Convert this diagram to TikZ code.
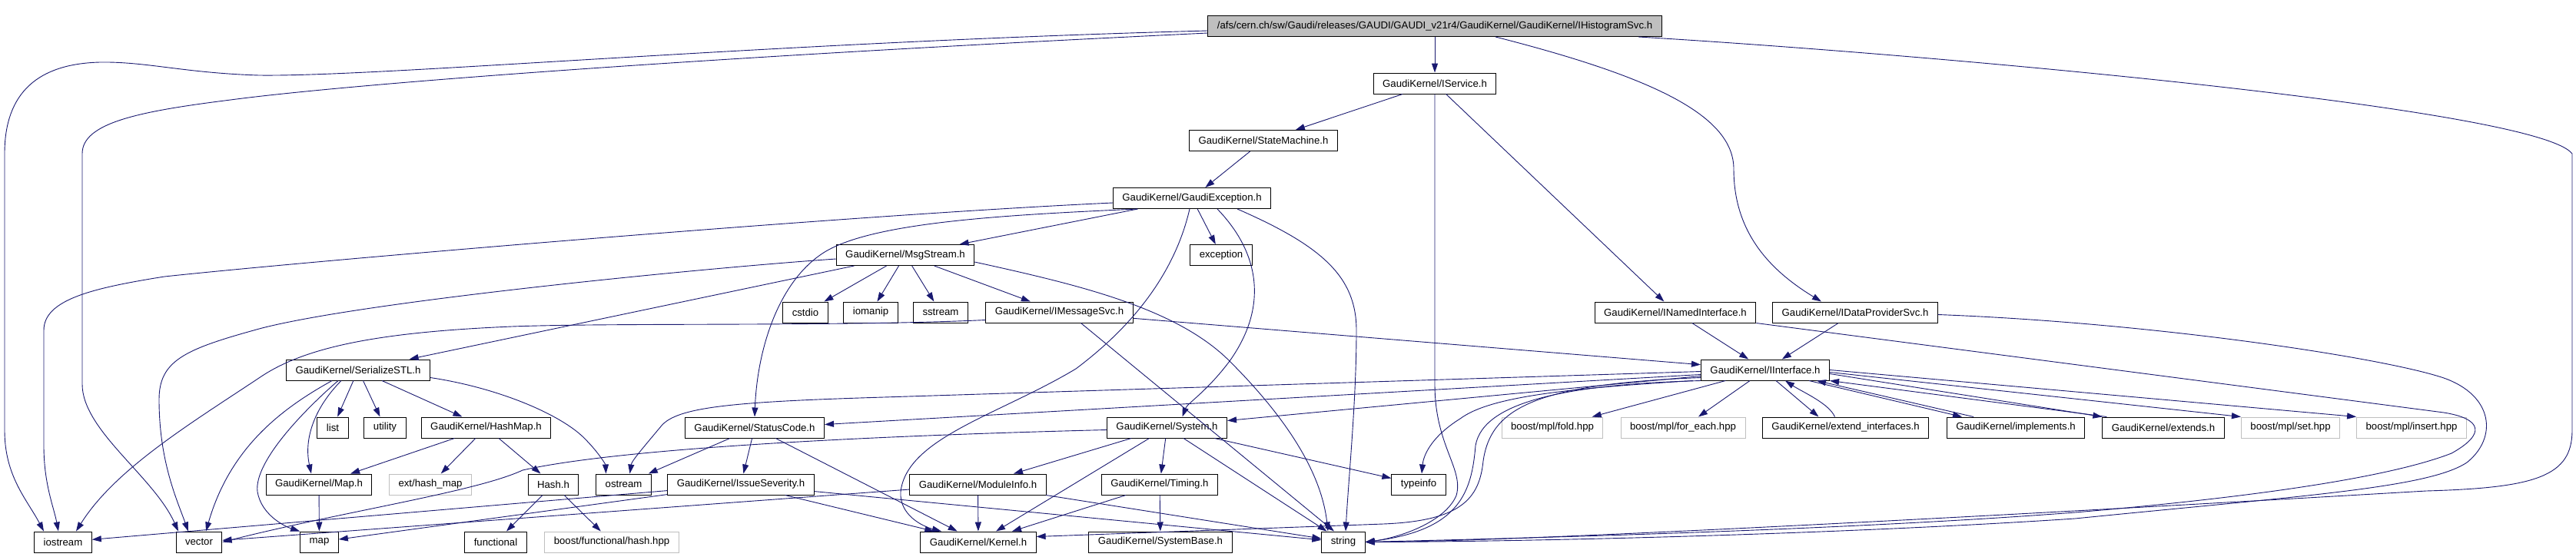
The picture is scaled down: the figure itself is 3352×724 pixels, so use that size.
\documentclass[tikz,border=0pt]{standalone}
\usepackage{fontspec}
\setmainfont{Liberation Sans}
\usetikzlibrary{arrows.meta}
\definecolor{inclblue}{HTML}{191970}
\definecolor{missgray}{HTML}{BFBFBF}

\begin{document}
\begin{tikzpicture}[x=1pt,y=-1pt,
    hfile/.style={rectangle,draw,line width=1pt,minimum height=27pt,inner xsep=12pt,inner ysep=0pt,font=\fontsize{13.2}{15}\selectfont},
    sysfile/.style={hfile,draw=missgray},
    rootfile/.style={hfile,fill=missgray},
    incl/.style={draw=inclblue,line width=0.9pt,-{Triangle[length=12pt,width=8pt]}}]
  \useasboundingbox (0,0) rectangle (3352,724);

  % rows of the include graph
  \node[rootfile] (root) at (1867,34) {/afs/cern.ch/sw/Gaudi/releases/GAUDI/GAUDI\_v21r4/GaudiKernel/GaudiKernel/IHistogramSvc.h};
  \node[hfile] (IService) at (1867,108.5) {GaudiKernel/IService.h};
  \node[hfile] (StateMachine) at (1644,183) {GaudiKernel/StateMachine.h};
  \node[hfile] (GaudiException) at (1551,258) {GaudiKernel/GaudiException.h};
  \node[hfile] (MsgStream) at (1178,332) {GaudiKernel/MsgStream.h};
  \node[hfile] (exception) at (1589,332) {exception};
  \node[hfile] (cstdio) at (1048,406.5) {cstdio};
  \node[hfile] (iomanip) at (1133,406.5) {iomanip};
  \node[hfile] (sstream) at (1224,406.5) {sstream};
  \node[hfile] (IMessageSvc) at (1378.5,406.5) {GaudiKernel/IMessageSvc.h};
  \node[hfile] (INamedInterface) at (2180,406.5) {GaudiKernel/INamedInterface.h};
  \node[hfile] (IDataProviderSvc) at (2414,406.5) {GaudiKernel/IDataProviderSvc.h};
  \node[hfile] (SerializeSTL) at (466,481.5) {GaudiKernel/SerializeSTL.h};
  \node[hfile] (IInterface) at (2297,481.5) {GaudiKernel/IInterface.h};
  \node[hfile] (list) at (433,556.5) {list};
  \node[hfile] (utility) at (501,556.5) {utility};
  \node[hfile] (HashMap) at (632.5,556.5) {GaudiKernel/HashMap.h};
  \node[hfile] (StatusCode) at (982,556.5) {GaudiKernel/StatusCode.h};
  \node[hfile] (System) at (1518.5,556.5) {GaudiKernel/System.h};
  \node[sysfile] (mplfold) at (2020,556.5) {boost/mpl/fold.hpp};
  \node[sysfile] (mplforeach) at (2190,556.5) {boost/mpl/for\_each.hpp};
  \node[hfile] (extendif) at (2401.5,556.5) {GaudiKernel/extend\_interfaces.h};
  \node[hfile] (implements) at (2623,556.5) {GaudiKernel/implements.h};
  \node[hfile] (extends) at (2815,556.5) {GaudiKernel/extends.h};
  \node[sysfile] (mplset) at (2980.5,556.5) {boost/mpl/set.hpp};
  \node[sysfile] (mplinsert) at (3138,556.5) {boost/mpl/insert.hpp};
  \node[hfile] (Map) at (415,630.5) {GaudiKernel/Map.h};
  \node[sysfile] (hashmapx) at (560,630.5) {ext/hash\_map};
  \node[hfile] (Hash) at (720,630.5) {Hash.h};
  \node[hfile] (ostream) at (811.5,630.5) {ostream};
  \node[hfile] (IssueSeverity) at (964,630.5) {GaudiKernel/IssueSeverity.h};
  \node[hfile] (ModuleInfo) at (1272.5,630.5) {GaudiKernel/ModuleInfo.h};
  \node[hfile] (Timing) at (1509,630.5) {GaudiKernel/Timing.h};
  \node[hfile] (typeinfo) at (1846,630.5) {typeinfo};
  \node[hfile] (iostream) at (82,705.5) {iostream};
  \node[hfile] (vector) at (259,705.5) {vector};
  \node[hfile] (stdmap) at (415.5,705.5) {map};
  \node[hfile] (functional) at (645,705.5) {functional};
  \node[sysfile] (hashhpp) at (796,705.5) {boost/functional/hash.hpp};
  \node[hfile] (Kernel) at (1273,705.5) {GaudiKernel/Kernel.h};
  \node[hfile] (SystemBase) at (1510,705.5) {GaudiKernel/SystemBase.h};
  \node[hfile] (stdstring) at (1748,705.5) {string};

  % IHistogramSvc.h
  \draw[incl] (root) -- (IService);
  \draw[incl] ([yshift=-6pt]root.west) .. controls (1000,55) and (500,100) .. (337,98) .. controls (240,95) and (190,80) .. (130,81) .. controls (50,83) and (6,120) .. (6,200) -- (6,560) .. controls (6,620) and (35,650) .. ([xshift=-25pt]iostream.north);
  \draw[incl] ([yshift=-9pt]root.west) .. controls (900,75) and (450,110) .. (300,130) .. controls (180,145) and (107,160) .. (107,200) -- (107,500) .. controls (107,560) and (200,620) .. ([xshift=-27pt]vector.north);
  \draw[incl] ([xshift=79pt]root.south) .. controls (2150,100) and (2256,150) .. (2256,220) .. controls (2256,300) and (2300,350) .. ([xshift=-44pt]IDataProviderSvc.north);
  \draw[incl] ([xshift=265pt]root.south) .. controls (2500,70) and (3300,140) .. (3347,200) -- (3347,560) .. controls (3347,620) and (3300,635) .. (3157,639) .. controls (2800,660) and (2000,705) .. (stdstring.east);

  % IService.h, StateMachine.h
  \draw[incl] (IService) -- (StateMachine);
  \draw[incl] (IService) -- (INamedInterface);
  \draw[incl] (IService) -- (1867,500) .. controls (1867,580) and (1905,610) .. (1895,645) .. controls (1880,680) and (1820,700) .. (stdstring.east);
  \draw[incl] (StateMachine) -- (GaudiException);

  % GaudiException.h
  \draw[incl] (GaudiException) -- (MsgStream);
  \draw[incl] (GaudiException) -- (exception);
  \draw[incl] ([yshift=-6pt]GaudiException.west) .. controls (1100,280) and (400,340) .. (214,360) .. controls (120,375) and (57,390) .. (57,430) -- (57,580) .. controls (57,630) and (70,660) .. ([xshift=-6pt]iostream.north);
  \draw[incl] ([xshift=-71pt]GaudiException.south) .. controls (1300,280) and (1130,290) .. (1070,330) .. controls (1010,370) and (985,460) .. (StatusCode.north);
  \draw[incl] ([xshift=-3pt]GaudiException.south) .. controls (1530,350) and (1480,420) .. (1400,480) .. controls (1300,540) and (1180,570) .. (1172,640) .. controls (1170,670) and (1200,685) .. ([xshift=-48pt]Kernel.north);
  \draw[incl] ([xshift=33pt]GaudiException.south) .. controls (1640,330) and (1650,400) .. (1600,470) .. controls (1570,510) and (1545,525) .. ([xshift=20pt]System.north);
  \draw[incl] ([xshift=59pt]GaudiException.south) .. controls (1720,320) and (1765,360) .. (1765,430) .. controls (1765,520) and (1755,620) .. ([xshift=3pt]stdstring.north);

  % MsgStream.h, IMessageSvc.h
  \draw[incl] (MsgStream) -- (cstdio);
  \draw[incl] (MsgStream) -- (iomanip);
  \draw[incl] (MsgStream) -- (sstream);
  \draw[incl] (MsgStream) -- (IMessageSvc);
  \draw[incl] (MsgStream) -- (SerializeSTL);
  \draw[incl] ([yshift=-5pt]MsgStream.west) .. controls (900,350) and (450,395) .. (330,430) .. controls (240,455) and (207,470) .. (207,520) .. controls (207,600) and (230,650) .. ([xshift=-14pt]vector.north);
  \draw[incl] ([yshift=-9pt]MsgStream.east) .. controls (1400,370) and (1530,400) .. (1600,470) .. controls (1680,550) and (1720,620) .. ([xshift=-20pt]stdstring.north);
  \draw[incl] (IMessageSvc) -- (IInterface);
  \draw[incl] ([xshift=28pt]IMessageSvc.south) -- ([xshift=-12pt]stdstring.north);
  \draw[incl] ([yshift=-10pt]IMessageSvc.west) .. controls (1100,425) and (800,420) .. (666,425) .. controls (500,432) and (400,450) .. (340,490) .. controls (250,550) and (150,610) .. ([xshift=17pt]iostream.north);

  % INamedInterface.h, IDataProviderSvc.h
  \draw[incl] (INamedInterface) -- (IInterface);
  \draw[incl] (IDataProviderSvc) -- (IInterface);
  \draw[incl] (INamedInterface.south east) -- (3180,537) .. controls (3230,545) and (3235,565) .. (3190,590) .. controls (3100,625) and (2900,650) .. (2700,667) .. controls (2400,690) and (2000,700) .. (stdstring.east);
  \draw[incl] ([yshift=-3pt]IDataProviderSvc.east) .. controls (2800,420) and (3100,465) .. (3180,492) .. controls (3245,515) and (3250,570) .. (3210,602) .. controls (3160,635) and (3000,645) .. (2700,675) .. controls (2400,695) and (2000,705) .. (stdstring.east);

  % IInterface.h
  \draw[incl] (IInterface) -- (mplfold);
  \draw[incl] (IInterface) -- (mplforeach);
  \draw[incl] ([xshift=14pt]IInterface.south) -- ([xshift=-35pt]extendif.north);
  \draw[incl] ([xshift=-14pt]extendif.north) .. controls (2380,525) and (2345,510) .. ([xshift=26pt]IInterface.south);
  \draw[incl] ([xshift=57pt]IInterface.south) -- ([xshift=-70pt]implements.north);
  \draw[incl] ([xshift=-55pt]implements.north) -- ([xshift=67pt]IInterface.south);
  \draw[incl] ([yshift=-5pt]IInterface.east) -- (extends.north west);
  \draw[incl] ([xshift=6pt]extends.north west) -- (IInterface.south east);
  \draw[incl] ([yshift=-3pt]IInterface.east) -- (mplset.north west);
  \draw[incl] (IInterface.east) -- (mplinsert.north west);
  \draw[incl] ([yshift=-6pt]IInterface.west) -- ([yshift=4pt]StatusCode.east);
  \draw[incl] ([yshift=-8pt]IInterface.west) -- ([yshift=-5pt]System.north east);
  \draw[incl] ([yshift=-2pt]IInterface.west) -- (1150,517) .. controls (950,523) and (880,530) .. (860,555) .. controls (835,585) and (822,600) .. ([xshift=8pt]ostream.north);
  \draw[incl] ([xshift=-10pt]IInterface.south west) .. controls (2050,505) and (1940,515) .. (1900,545) .. controls (1860,570) and (1852,595) .. ([xshift=4pt]typeinfo.north);
  \draw[incl] (IInterface.south west) .. controls (2050,500) and (1930,520) .. (1920,580) .. controls (1915,640) and (1900,690) .. (stdstring.east);
  \draw[incl] ([yshift=-10pt]IInterface.west) .. controls (2000,500) and (1940,530) .. (1930,600) .. controls (1925,650) and (1900,678) .. (1800,682) -- ([yshift=7pt]Kernel.east);

  % SerializeSTL.h, HashMap.h, Hash.h, Map.h
  \draw[incl] (SerializeSTL) -- (list);
  \draw[incl] (SerializeSTL) -- (utility);
  \draw[incl] (SerializeSTL) -- (HashMap);
  \draw[incl] ([yshift=-10pt]SerializeSTL.east) .. controls (650,505) and (730,540) .. (760,570) .. controls (780,590) and (788,605) .. ([xshift=-23pt]ostream.north);
  \draw[incl] ([xshift=-22pt]SerializeSTL.south) .. controls (410,530) and (395,570) .. ([xshift=-10pt]Map.north);
  \draw[incl] ([xshift=-34pt]SerializeSTL.south) .. controls (370,530) and (300,580) .. ([xshift=9pt]vector.north);
  \draw[incl] ([xshift=-26pt]SerializeSTL.south) .. controls (400,530) and (330,600) .. (335,640) .. controls (340,670) and (370,685) .. (stdmap.north west);
  \draw[incl] (HashMap) -- (Map);
  \draw[incl] (HashMap) -- (hashmapx);
  \draw[incl] (HashMap) -- (Hash);
  \draw[incl] (Hash) -- (functional);
  \draw[incl] (Hash) -- (hashhpp);
  \draw[incl] (Map) -- (stdmap);

  % StatusCode.h, IssueSeverity.h
  \draw[incl] (StatusCode) -- (ostream);
  \draw[incl] (StatusCode) -- (IssueSeverity);
  \draw[incl] (StatusCode) -- (Kernel);
  \draw[incl] (IssueSeverity) -- (Kernel);
  \draw[incl] (IssueSeverity) -- (stdstring);
  \draw[incl] (IssueSeverity) -- (iostream);
  \draw[incl] (IssueSeverity) -- (stdmap);

  % System.h, Timing.h, ModuleInfo.h
  \draw[incl] (System) -- (ModuleInfo);
  \draw[incl] (System) -- (Timing);
  \draw[incl] (System) -- (Kernel);
  \draw[incl] (System) -- (stdstring);
  \draw[incl] (System) -- (typeinfo);
  \draw[incl] ([yshift=-3pt]System.west) .. controls (1100,568) and (800,585) .. (680,612) .. controls (620,640) and (450,665) .. (vector.east);
  \draw[incl] (Timing) -- (Kernel);
  \draw[incl] (Timing) -- (SystemBase);
  \draw[incl] (ModuleInfo) -- (Kernel);
  \draw[incl] (ModuleInfo) -- (stdstring);
  \draw[incl] (ModuleInfo) -- (vector);
\end{tikzpicture}
\end{document}
